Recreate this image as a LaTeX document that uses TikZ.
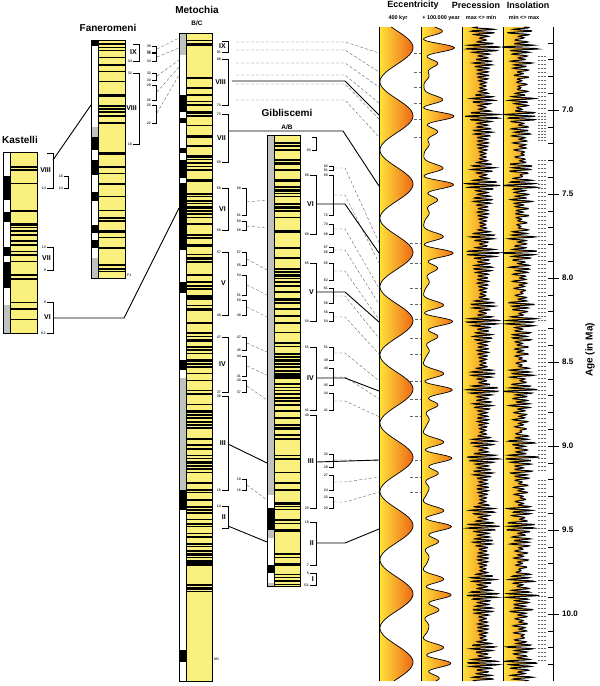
\documentclass[tikz,border=0pt]{standalone}
\usepackage{fontspec}
\setmainfont{Liberation Sans}
\definecolor{sapy}{RGB}{250,240,125}
\definecolor{eccy}{RGB}{255,228,60}
\definecolor{ecco}{RGB}{238,100,20}
\definecolor{stripg}{RGB}{190,195,190}
\tikzset{
 ttl/.style={font=\fontsize{10}{11}\selectfont\bfseries,inner sep=0pt},
 ttls/.style={font=\fontsize{9}{10}\selectfont\bfseries,inner sep=0pt},
 sub/.style={font=\fontsize{5.5}{6}\selectfont\bfseries,inner sep=0pt},
 rom/.style={font=\fontsize{7}{7}\selectfont\bfseries,inner sep=0pt},
 num/.style={font=\fontsize{3.6}{4}\selectfont\bfseries,inner sep=0pt,text=black!75},
 brk/.style={line width=0.7pt},
 cor/.style={line width=0.9pt},
 dsh/.style={densely dashed,line width=0.4pt,black!60},
 dts/.style={densely dotted,line width=0.4pt,black!60}
}
\newcommand\litcol[6]{%
 \fill[sapy] (#1,#3) rectangle (#2,#4);
 \pgfmathsetseed{#5}
 \pgfmathsetmacro\ysec{#3+3.4}
 \foreach \yy in {#3,\ysec,...,#4}{%
  \pgfmathtruncatemacro\bb{rnd<#6}
  \ifnum\bb=1
   \pgfmathsetmacro\hh{min(1+rnd*1.8,#4-\yy)}
   \fill (#1+7,\yy) rectangle (#2,\yy+\hh);
  \fi}}
\newcommand\colframe[4]{\draw[line width=0.6pt] (#1,#3) rectangle (#2,#4); \draw[line width=0.4pt] (#1+7,#3)--(#1+7,#4);}
\newcommand\bigbr[6]{%
 \draw[brk] ({#1-6},#2)--(#1,#2)--(#1,#3)--({#1-6},#3);
 \node[rom,anchor=east] at ({#1-2},{(#2+#3)/2}) {#4};
 \node[num,anchor=east] at ({#1-7},#2) {#5};
 \node[num,anchor=east] at ({#1-7},#3) {#6};}
\newcommand\smbr[5]{%
 \draw[brk] ({#1-4},#2)--(#1,#2)--(#1,#3)--({#1-4},#3);
 \node[num,anchor=east] at ({#1-5},#2) {#4};
 \node[num,anchor=east] at ({#1-5},#3) {#5};}
\begin{document}
\begin{tikzpicture}[x=1pt,y=-1pt,
 declare function={e4(\t)=0.5-0.5*cos((\t-150)*5.271);
  e1(\t)=e4(\t)*(0.5+0.5*cos((\t-133)*21.05))*0.8+0.12+0.08*sin(\t*15.65);
  pr(\t)=sin(mod(\t,3.55)*101.41);
  ob(\t)=sin(mod(\t,6.9)*52.17);}]
\useasboundingbox (0,0) rectangle (600,686);
\fill[white] (0,0) rectangle (600,686);
% ---------- columns ----------
\litcol{3}{37}{152}{333}{11}{0.3}
\foreach \a/\b/\c in {152/176/white,176/200/black,200/212/white,212/222/black,222/247/white,247/256/black,256/262/white,262/288/black,288/305/white,305/333/stripg}{\fill[\c] (3,\a) rectangle (10,\b);}
\colframe{3}{37}{152}{333}
\litcol{91}{125}{40}{278}{22}{0.45}
\foreach \a/\b/\c in {40/46/black,46/127/white,127/137/stripg,137/150/black,150/160/white,160/175/black,175/192/white,192/201/black,201/225/white,225/233/black,233/240/white,240/248/black,248/258/white,258/278/stripg}{\fill[\c] (91,\a) rectangle (98,\b);}
\colframe{91}{125}{40}{278}
\node[num,anchor=west] at (127,275) {F1};
\litcol{179}{212}{33}{681}{33}{0.55}
\fill[sapy] (186,600) rectangle (212,681);
\foreach \a/\b/\c in {33/55/stripg,55/95/white,95/112/black,112/118/white,118/123/black,123/148/white,148/153/black,153/160/white,160/178/black,178/183/white,183/250/black,250/282/white,282/293/black,293/360/white,360/370/black,370/378/white,378/490/stripg,490/510/black,510/650/white,650/662/black,662/681/white}{\fill[\c] (179,\a) rectangle (186,\b);}
\colframe{179}{212}{33}{681}
\node[num,anchor=west] at (214,659) {M1};
\litcol{267}{300}{135}{586}{44}{0.55}
\foreach \a/\b/\c in {135/495/stripg,495/508/white,508/530/black,530/538/stripg,538/565/white,565/573/black,573/583/white,583/586/stripg}{\fill[\c] (267,\a) rectangle (274,\b);}
\colframe{267}{300}{135}{586}
% ---------- titles ----------
\node[ttl] (tk) at (20,140) {Kastelli};
\node[ttl] (tf) at (108,28) {Faneromeni};
\node[ttl] (tm) at (197,10) {Metochia};
\node[sub,font=\fontsize{6.5}{7}\selectfont\bfseries] (tmb) at (197,23) {B/C};
\node[ttl] (tg) at (287,113) {Gibliscemi};
\node[sub,font=\fontsize{6.5}{7}\selectfont\bfseries] (tgb) at (287,127) {A/B};
\node[ttls] (te) at (413,5) {Eccentricity};
\node[sub] (te1) at (398,18) {400 kyr};
\node[sub] (te2) at (441,18) {+ 100.000 year};
\node[ttls] (tp) at (476,5) {Precession};
\node[sub] (tp1) at (481,18) {max <> min};
\node[ttls] (ti) at (528,5) {Insolation};
\node[sub] (ti1) at (524,18) {min <> max};
% ---------- brackets ----------
\bigbr{53}{153}{188}{VIII}{}{14}
\smbr{68}{176}{188}{16}{14}
\bigbr{53}{247}{270}{VII}{13}{9}
\bigbr{53}{302}{333}{VI}{8}{K1}
\bigbr{139}{44}{61}{IX}{}{34}
\smbr{156}{46}{52}{39}{36}
\smbr{156}{53}{61}{36}{34}
\bigbr{139}{73}{144}{VIII}{32}{18}
\smbr{156}{73}{80}{32}{30}
\smbr{156}{85}{100}{29}{26}
\smbr{156}{105}{123}{25}{22}
\bigbr{228}{41}{52}{IX}{}{91}
\bigbr{228}{59}{105}{VIII}{88}{74}
\bigbr{228}{114}{162}{VII}{73}{69}
\bigbr{228}{188}{230}{VI}{68}{58}
\bigbr{228}{252}{315}{V}{57}{48}
\bigbr{228}{337}{392}{IV}{47}{37}
\bigbr{228}{396}{490}{III}{36}{16}
\bigbr{228}{506}{528}{II}{14}{}
\foreach \a/\b/\p/\q in {188/215/68/61,221/230/60/58,252/265/57/55,275/295/54/51,300/315/50/48,337/350/47/45,356/376/44/41,380/392/40/37,479/490/18/16}{\smbr{246}{\a}{\b}{\p}{\q}}
\smbr{316}{137}{150}{}{83}
\bigbr{316}{175}{234}{VI}{80}{68}
\bigbr{316}{263}{321}{V}{65}{54}
\bigbr{316}{347}{410}{IV}{51}{41}
\bigbr{316}{415}{508}{III}{40}{20}
\bigbr{316}{522}{565}{II}{18}{7}
\bigbr{316}{573}{585}{I}{5}{G1}
\foreach \a/\b/\p/\q in {166/170/82/81,175/215/80/72,224/234/70/68,247/252/67/66,263/280/65/62,288/303/61/58,312/321/56/54,347/360/51/49,368/385/48/45,393/410/44/41,454/467/32/29,475/490/27/24,497/508/22/20}{\smbr{333}{\a}{\b}{\p}{\q}}
% ---------- dashed correlations ----------
\foreach \a/\b in {49/38,57/48,76/60,92/67,113/75}{\draw[dsh] (157,\a)--(179,\b);}
\foreach \a/\b in {202/200,226/228,259/270,285/295,307/317,343/352,366/375,386/400,485/500}{\draw[dsh] (247,\a)--(267,\b);}
\foreach \a/\b in {42/53,50/72,63/87,75/103,84/119,100/137}{\draw[dsh] (236,\a)--(345,\a)--(379,\b); \draw[dsh] (414,\b)--(424,\b);}
\foreach \m in {168,195,229,250,271,296,317,353,377,401,460,482,502}{%
 \pgfmathsetmacro\ye{\m+75-(\m-167)*0.2537}
 \draw[dsh] (334,\m)--(345,\m)--(379,\ye); \draw[dsh] (410,\ye)--(424,\ye);}
% ---------- solid correlations ----------
\draw[cor] (53,318)--(124,318)--(179,208);
\draw[cor] (53,160)--(91,105);
\draw[cor] (232,81)--(345,81)--(379,115);
\draw[cor] (228,131)--(343,131)--(379,186);
\draw[cor] (228,444)--(267,463);
\draw[cor] (228,526)--(267,542);
\draw[cor] (316,204)--(345,204)--(379,253);
\draw[cor] (316,292)--(345,292)--(379,322);
\draw[cor] (316,378)--(345,378)--(379,391);
\draw[cor] (316,462)--(379,460);
\draw[cor] (316,543)--(345,543)--(379,529);
% ---------- eccentricity 400 kyr ----------
\begin{scope}
\clip (379,27) -- plot[variable=\t,domain=27:681,samples=400] ({380+33*e4(\t)},\t) -- (379,681) -- cycle;
\shade[left color=eccy,right color=ecco] (379,27) rectangle (414,681);
\end{scope}
\draw[line width=0.7pt] plot[variable=\t,domain=27:681,samples=400] ({380+33*e4(\t)},\t);
\draw[line width=0.7pt] (379,27)--(379,681);
% ---------- 100 kyr ----------
\begin{scope}
\clip (421,27) -- plot[variable=\t,domain=27:681,samples=700] ({422+34*e1(\t)},\t) -- (421,681) -- cycle;
\shade[left color=eccy,right color=ecco] (421,27) rectangle (457,681);
\end{scope}
\draw[line width=0.7pt] plot[variable=\t,domain=27:681,samples=700] ({422+34*e1(\t)},\t);
\draw[line width=0.7pt] (421,27)--(421,681);
% ---------- precession ----------
\begin{scope}
\clip (462,27) -- plot[variable=\t,domain=27:681,samples=1400] ({483+15*(0.15+1.1*e1(\t))*pr(\t)},\t) -- (462,681) -- cycle;
\shade[left color=eccy,right color=ecco] (462,27) rectangle (500,681);
\end{scope}
\draw[line width=1pt] plot[variable=\t,domain=27:681,samples=1400] ({483+15*(0.15+1.1*e1(\t))*pr(\t)},\t);
\draw[line width=0.7pt] (462,27)--(462,681);
% ---------- insolation ----------
\begin{scope}
\clip (503,27) -- plot[variable=\t,domain=27:681,samples=1400] ({521-14*(0.15+1.1*e1(\t))*pr(\t)+3*ob(\t)},\t) -- (503,681) -- cycle;
\shade[left color=eccy,right color=ecco] (503,27) rectangle (542,681);
\end{scope}
\draw[line width=1pt] plot[variable=\t,domain=27:681,samples=1400] ({521-14*(0.15+1.1*e1(\t))*pr(\t)+3*ob(\t)},\t);
\draw[line width=0.7pt] (503,27)--(503,681);
% dotted stubs
\foreach \y in {56,60,...,110,113,116,...,140,160,164,...,320,330,334,...,470,480,484,...,660}{\draw[dts] (538,\y)--(546,\y);}
% ---------- age axis ----------
\draw[line width=0.8pt] (553,27)--(553,681);
\foreach \k in {-4,...,33}{\draw[line width=0.6pt] (548,{110+16.8*\k})--(553,{110+16.8*\k});}
\foreach \a/\k in {7.0/0,7.5/5,8.0/10,8.5/15,9.0/20,9.5/25,10.0/30}{%
 \draw[line width=0.8pt] (553,{110+16.8*\k})--(559,{110+16.8*\k});
 \node[font=\fontsize{8}{8}\selectfont\bfseries,anchor=west,inner sep=0pt] at (562,{110+16.8*\k}) {\a};}
\node[font=\fontsize{10}{10}\selectfont\bfseries,rotate=90] (ax) at (590,350) {Age (in Ma)};
\end{tikzpicture}
\end{document}
